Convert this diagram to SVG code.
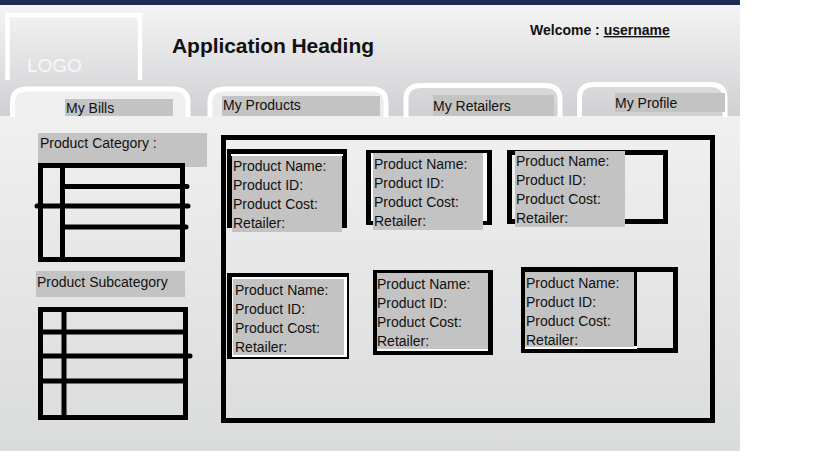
<svg xmlns="http://www.w3.org/2000/svg" width="819" height="460" viewBox="0 0 819 460">
<defs>
<linearGradient id="hdr" x1="0" y1="0" x2="0" y2="1">
<stop offset="0" stop-color="#f6f6f6"/>
<stop offset="1" stop-color="#cfd0d3"/>
</linearGradient>
<linearGradient id="body" x1="0" y1="0" x2="0" y2="1">
<stop offset="0" stop-color="#f0f0f0"/>
<stop offset="1" stop-color="#dadbdc"/>
</linearGradient>
<style>
text{font-family:"Liberation Sans",Arial,sans-serif;fill:#111}
.lbl{font-size:14px}
.tabtxt{font-size:14px}
.tab{fill:none;stroke:#ffffff;stroke-width:5}
.gbox{fill:#c3c3c3}
.frame{fill:none;stroke:#000;stroke-width:5}
.ln{stroke:#000;stroke-width:5;stroke-linecap:round;fill:none}
</style>
</defs>
<rect width="819" height="460" fill="#ffffff"/>
<rect x="0" y="0" width="740" height="116" fill="url(#hdr)"/>
<rect x="0" y="116" width="740" height="335" fill="url(#body)"/>
<rect x="0" y="0" width="740" height="5" fill="#1c2b58"/>

<g id="logo">
<path d="M7.5 80 V15 H140 V80" fill="none" stroke="#ffffff" stroke-width="4.5"/>
<text x="27" y="71.5" style="font-size:19px;fill:#f8f8f8">LOGO</text>
</g>
<g id="heading">
<text x="172" y="52.5" style="font-size:21px;font-weight:bold" textLength="202">Application Heading</text>
</g>
<g id="welcome">
<text x="530" y="35" style="font-size:14px;font-weight:bold">Welcome : <tspan text-decoration="underline">username</tspan></text>
</g>

<g id="tab-bills">
<path class="tab" d="M12.5 117 V102 Q12.5 89 27 89 H173 Q188 89 188 102 V117" fill="#eeeeee" style="fill:#efefef"/>
<rect class="gbox" x="65" y="99" width="108" height="17"/>
<text class="tabtxt" x="66" y="113">My Bills</text>
</g>
<g id="tab-products">
<path class="tab" d="M210 117 V102 Q210 89 225 89 H371 Q386 89 386 102 V117" style="fill:#ececec"/>
<rect class="gbox" x="222" y="96" width="158" height="20"/>
<text class="tabtxt" x="223" y="110">My Products</text>
</g>
<g id="tab-retailers">
<path class="tab" d="M406 117 V99 Q406 85.5 421 85.5 H545 Q560 85.5 560 99 V117"/>
<rect class="gbox" x="433" y="95" width="121" height="21"/>
<text class="tabtxt" x="433" y="110.5">My Retailers</text>
</g>
<g id="tab-profile">
<path class="tab" d="M579.5 117 V98 Q579.5 84.5 594 84.5 H710 Q725 84.5 725 98 V117"/>
<rect class="gbox" x="615" y="93" width="110" height="19"/>
<text class="tabtxt" x="615" y="107.5">My Profile</text>
</g>

<g id="product-category">
<rect class="gbox" x="38" y="133" width="169" height="34"/>
<text class="lbl" x="40" y="148">Product Category :</text>
<rect class="frame" x="40.5" y="165.5" width="142" height="94"/>
<line class="ln" x1="62.5" y1="166" x2="62.5" y2="259"/>
<line class="ln" x1="63" y1="186.5" x2="187" y2="186.5"/>
<line class="ln" x1="37" y1="206" x2="188" y2="206"/>
<line class="ln" x1="63" y1="227" x2="186" y2="227"/>
</g>

<g id="product-subcategory">
<rect class="gbox" x="36" y="271" width="149" height="26"/>
<text class="lbl" x="37" y="287">Product Subcategory</text>
<rect class="frame" x="40.5" y="309.5" width="145" height="108"/>
<line class="ln" x1="64" y1="310" x2="64" y2="417"/>
<line class="ln" x1="42" y1="332" x2="185" y2="332"/>
<line class="ln" x1="42" y1="356" x2="190" y2="356"/>
<line class="ln" x1="42" y1="381" x2="185" y2="381"/>
</g>

<g id="product-panel">
<rect class="frame" x="223.5" y="137.5" width="489" height="283"/>
</g>

<g id="card-1">
<rect class="frame" x="229.5" y="151.5" width="115" height="74"/>
<rect fill="#ffffff" x="231" y="154" width="112" height="2"/>
<rect class="gbox" x="232" y="156" width="110" height="76"/>
<text class="lbl" x="233" y="171">Product Name:</text>
<text class="lbl" x="233" y="190">Product ID:</text>
<text class="lbl" x="233" y="209">Product Cost:</text>
<text class="lbl" x="233" y="228">Retailer:</text>
</g>

<g id="card-2">
<rect fill="#000" x="366" y="150" width="126" height="75"/>
<rect fill="#ffffff" x="371" y="153" width="116" height="68"/>
<rect class="gbox" x="373" y="153" width="110" height="77"/>
<text class="lbl" x="374" y="169">Product Name:</text>
<text class="lbl" x="374" y="188">Product ID:</text>
<text class="lbl" x="374" y="207">Product Cost:</text>
<text class="lbl" x="374" y="226">Retailer:</text>
</g>

<g id="card-3">
<rect class="frame" x="509.5" y="152.5" width="156" height="69"/>
<rect class="gbox" x="515" y="151" width="110" height="76"/>
<text class="lbl" x="516" y="166">Product Name:</text>
<text class="lbl" x="516" y="185">Product ID:</text>
<text class="lbl" x="516" y="204">Product Cost:</text>
<text class="lbl" x="516" y="223">Retailer:</text>
</g>

<g id="card-4">
<rect class="frame" x="229.5" y="275.5" width="117" height="81"/>
<rect fill="#ffffff" x="232" y="277" width="115" height="80"/>
<rect class="gbox" x="233" y="279" width="111" height="76"/>
<text class="lbl" x="235" y="295">Product Name:</text>
<text class="lbl" x="235" y="314">Product ID:</text>
<text class="lbl" x="235" y="333">Product Cost:</text>
<text class="lbl" x="235" y="352">Retailer:</text>
</g>

<g id="card-5">
<rect fill="#000" x="373" y="270" width="120" height="85"/>
<rect fill="#ffffff" x="377" y="348" width="111" height="3"/>
<rect class="gbox" x="377" y="273" width="111" height="76"/>
<text class="lbl" x="377" y="289">Product Name:</text>
<text class="lbl" x="377" y="308">Product ID:</text>
<text class="lbl" x="377" y="327">Product Cost:</text>
<text class="lbl" x="377" y="346">Retailer:</text>
</g>

<g id="card-6">
<rect class="frame" x="523.5" y="269.5" width="152" height="81"/>
<rect fill="#ffffff" x="525" y="272" width="112" height="77"/>
<rect fill="#000" x="634" y="272" width="3" height="74"/>
<rect class="gbox" x="525" y="272" width="109" height="75"/>
<text class="lbl" x="526" y="288">Product Name:</text>
<text class="lbl" x="526" y="307">Product ID:</text>
<text class="lbl" x="526" y="326">Product Cost:</text>
<text class="lbl" x="526" y="345">Retailer:</text>
</g>

<g id="connectors"/>
</svg>
